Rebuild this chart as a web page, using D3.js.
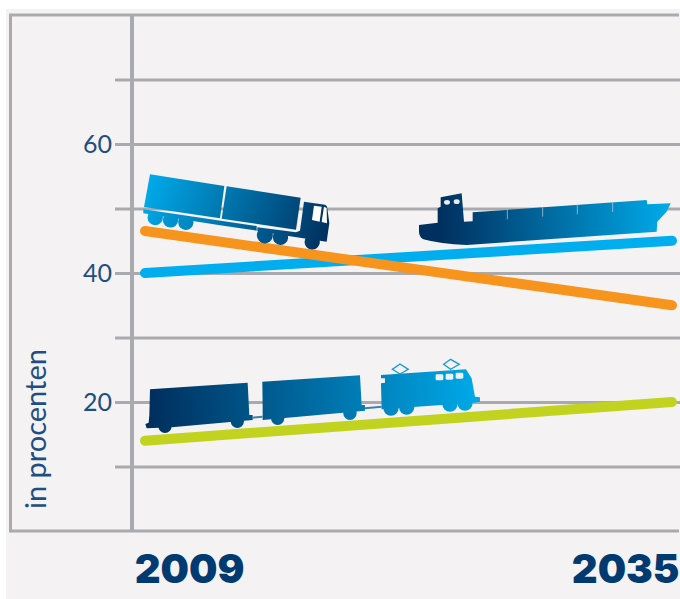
<!DOCTYPE html>
<html>
<head>
<meta charset="utf-8">
<script src="https://cdn.jsdelivr.net/npm/d3@7"></script>
<style>
  html, body { margin: 0; padding: 0; background: #fff; }
  svg { display: block; }
</style>
</head>
<body>
<svg id="chart" width="680" height="599"></svg>
<script>
// Share of freight transport by mode, in percent
const years = [2009, 2035];
const water = [40, 45];
const road = [46.5, 35];
const rail = [14, 20];
const gridTicks = [10, 20, 30, 40, 50, 60, 70];
const labelledTicks = [20, 40, 60];
const yAxisTitle = "in procenten";

const GREY = "#a9aaad", INK = "#1f4e80", NAVY = "#003a70";

const svg = d3.select("#chart");
const x = d3.scaleLinear().domain(years).range([145, 672]);
const y = d3.scaleLinear().domain([0, 80]).range([531, 15]);

svg.append("rect").attr("x", 6).attr("y", 9).attr("width", 674).attr("height", 590).attr("fill", "#f4f2f3");

// Gridlines, running from just left of the axis to the right edge
const grid = svg.append("g").attr("transform", "translate(115,0)")
  .call(d3.axisRight(y).tickValues(gridTicks).tickSize(565).tickFormat(""));
grid.select(".domain").remove();
grid.selectAll("line").attr("stroke", GREY).attr("stroke-width", 3);

// Outer frame and vertical axis
const frame = svg.append("g").attr("stroke", GREY).attr("fill", "none");
frame.append("path").attr("d", d3.line()([[679, y(80)], [10.5, y(80)], [10.5, y(0)], [679, y(0)]])).attr("stroke-width", 3);
frame.append("line").attr("x1", 132).attr("x2", 132).attr("y1", y(80)).attr("y2", y(0)).attr("stroke-width", 4);

// Value labels
const labels = svg.append("g").attr("transform", "translate(115,0)")
  .call(d3.axisLeft(y).tickValues(labelledTicks).tickSize(0).tickPadding(3));
labels.select(".domain").remove();
labels.selectAll("text").attr("fill", INK).attr("font-family", "Lato").attr("font-size", 25);

svg.append("text").attr("transform", "translate(46,509) rotate(-90)")
  .attr("fill", INK).attr("font-family", "Lato").attr("font-size", 29).text(yAxisTitle);

// Year labels below the frame
const xAxis = svg.append("g").attr("transform", "translate(0,531)")
  .call(d3.axisBottom(x).tickValues(years).tickSize(0).tickFormat(d3.format("d")));
xAxis.select(".domain").remove();
xAxis.selectAll("text")
  .attr("fill", NAVY).attr("font-family", "Inter").attr("font-weight", 900).attr("font-size", 40)
  .attr("y", 52).attr("dy", 0)
  .attr("text-anchor", (d, i) => i ? "end" : "middle")
  .attr("x", (d, i) => i ? 7 : 44);

// Trend lines
const line = d3.line().x((d, i) => x(years[i])).y(d => y(d));
[[water, "#00aeef"], [rail, "#c1d21f"], [road, "#f7941d"]].forEach(([values, colour]) => {
  svg.append("path").attr("d", line(values)).attr("fill", "none")
    .attr("stroke", colour).attr("stroke-width", 10).attr("stroke-linecap", "round");
});

// Vehicle pictograms, drawn in a local 3:1 grid
const defs = svg.append("defs");
function gradient(id, x1, y1, x2, y2, from, to) {
  const g = defs.append("linearGradient").attr("id", id).attr("gradientUnits", "userSpaceOnUse")
    .attr("x1", x1).attr("y1", y1).attr("x2", x2).attr("y2", y2);
  g.append("stop").attr("offset", 0).attr("stop-color", from);
  g.append("stop").attr("offset", 1).attr("stop-color", to);
}
const LIGHT = "#00a9e8", DARK = "#00305f";
gradient("truckFill", 60, 60, 590, 240, LIGHT, DARK);
gradient("shipFill", 120, 130, 800, 90, DARK, LIGHT);
gradient("trainFill", 70, 170, 1040, 100, DARK, LIGHT);

// Truck
const truck = svg.append("g").attr("transform", "translate(130,160) scale(0.3333)").attr("fill", "url(#truckFill)");
truck.append("path").attr("d", "M60,43L283,78L270,175L42,141Z");
truck.append("path").attr("d", "M290,79L512,113L498,209L275,176Z");
truck.append("path").attr("d", "M40,148L380,198L380,212L270,196L40,160Z");
truck.append("path").attr("d", "M522,125L585,134Q592,136 592,145L598,190L590,245L500,232L382,214L382,202L498,217L510,212Z");
// Wheels hang below the chassis as cut discs
[[76, 172, 23], [122, 179, 23], [168, 186, 23], [405, 224, 24], [452, 231, 23], [547, 245, 23]].forEach(([cx, cy, r]) =>
  truck.append("path").attr("d", `M${cx - 18},${cy - 14}A${r},${r} 0 1 0 ${cx + 18},${cy - 13}Z`));
truck.append("path").attr("d", "M552,137L575,140L569,185L546,180Z").attr("fill", "#fff");
truck.append("path").attr("d", "M582,140L590,144L591,190L575,186Z").attr("fill", "#fff");

// Container ship
const ship = svg.append("g").attr("transform", "translate(400,180) scale(0.3333)").attr("fill", "url(#shipFill)");
ship.append("path").attr("d", "M57,135L113,128L113,85L122,80L122,52L185,40L192,125L218,124L218,97L740,60L742,73L812,70L800,95L772,125L770,155L200,195Q120,192 70,178Q57,170 57,155Z");
ship.append("ellipse").attr("cx", 141).attr("cy", 67).attr("rx", 9).attr("ry", 7).attr("fill", "#e8eef2");
ship.append("ellipse").attr("cx", 170).attr("cy", 65).attr("rx", 9).attr("ry", 7).attr("fill", "#e8eef2");
[[322, 90], [428, 82], [532, 75], [638, 68]].forEach(([lx, ly]) =>
  ship.append("line").attr("x1", lx).attr("x2", lx).attr("y1", ly).attr("y2", ly + 28).attr("stroke", "#c5d3dc").attr("stroke-width", 2));

// Freight train
const train = svg.append("g").attr("transform", "translate(130,350) scale(0.3333)").attr("fill", "url(#trainFill)");
train.append("path").attr("d", "M60,118L353,98L358,195L368,195L368,210L125,232L50,235L46,222L56,218L58,195Z");
train.append("path").attr("d", "M397,95L690,76L695,165L705,165L705,182L398,210L398,170Z");
train.append("path").attr("d", "M753,75L1008,58L1025,85L1035,140L1050,142L1050,155L1030,158L755,178L753,100L765,98L765,85L753,85Z");
[[105, 229, 20], [322, 214, 20], [443, 205, 20], [660, 190, 20], [783, 174, 23], [830, 171, 23], [960, 162, 23], [1005, 159, 23]].forEach(([cx, cy, r]) =>
  train.append("circle").attr("cx", cx).attr("cy", cy).attr("r", r));
train.append("path").attr("d", "M368,203L398,200M705,175L755,170").attr("stroke", "#3f7fa8").attr("stroke-width", 6).attr("fill", "none");
[[917, 73], [947, 71], [977, 68]].forEach(([wx, wy]) =>
  train.append("rect").attr("x", wx).attr("y", wy).attr("width", 23).attr("height", 18).attr("rx", 4).attr("fill", "#eef3f6"));
train.append("path").attr("d", "M787,58L810,42L835,58L810,72ZM941,43L962,28L988,43L962,58Z")
  .attr("fill", "none").attr("stroke", "#1a9ad6").attr("stroke-width", 4);
</script>
</body>
</html>
